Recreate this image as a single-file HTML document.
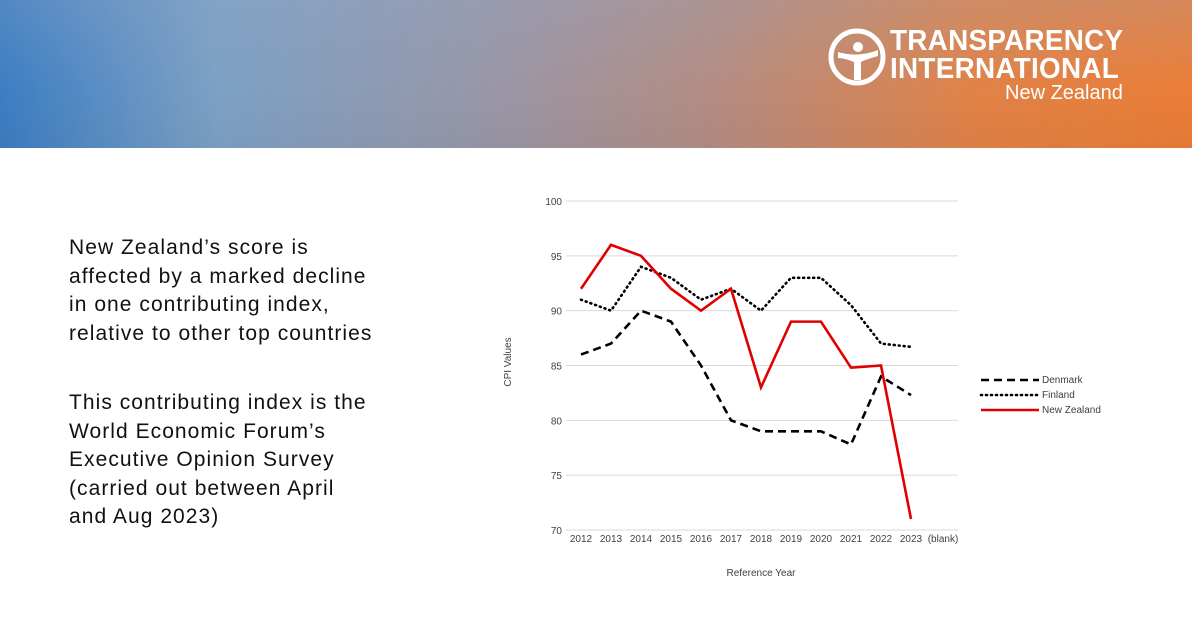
<!DOCTYPE html>
<html><head><meta charset="utf-8">
<style>
body{margin:0;width:1192px;height:627px;background:#fff;overflow:hidden;font-family:"Liberation Sans",sans-serif;position:relative}
#banner{position:absolute;left:0;top:0;width:1192px;height:148px;
background:linear-gradient(90deg,rgba(60,125,195,1) 0%,rgba(110,150,190,0.9) 18%,rgba(140,140,160,0.9) 40%,rgba(180,140,130,1) 60%,rgba(225,130,70,1) 82%,rgba(235,125,55,1) 100%)}
#banner:after{content:"";position:absolute;inset:0;background:linear-gradient(180deg,rgba(150,170,200,0.25),rgba(255,255,255,0) 60%,rgba(0,0,0,0.03))}
.txt{position:absolute;left:69px;font-size:21px;line-height:28.5px;color:#111;letter-spacing:1.05px;white-space:nowrap}
</style></head><body>
<div id="banner"></div>
<div style="position:absolute;left:828px;top:28px;width:300px;height:80px;z-index:2">
<svg width="60" height="60" style="position:absolute;left:0;top:0">
<circle cx="29" cy="29" r="26" fill="none" stroke="#fff" stroke-width="5"/>
<circle cx="30" cy="19" r="5" fill="#fff"/>
<path d="M10 24 Q30 30 50 22 L50 28 Q36 32 33 34 L33 52 L26 52 L26 34 Q16 30 10 30Z" fill="#fff"/>
</svg>
<div style="position:absolute;left:62px;top:-1px;color:#fff;font-size:29px;font-weight:bold;letter-spacing:0.3px;line-height:28px;transform:scaleX(0.96);transform-origin:left">TRANSPARENCY<br>INTERNATIONAL</div>
<div style="position:absolute;left:177px;top:54px;color:#fff;font-size:20px">New Zealand</div>
</div>
<div class="txt" style="top:234px">New Zealand’s score is<br>affected by a marked decline<br>in one contributing index,<br>relative to other top countries</div>
<div class="txt" style="top:389px">This contributing index is the<br>World Economic Forum’s<br>Executive Opinion Survey<br>(carried out between April<br>and Aug 2023)</div>
<svg id="chart" width="1192" height="627" style="position:absolute;left:0;top:0"></svg>
<script>
const years=["2012","2013","2014","2015","2016","2017","2018","2019","2020","2021","2022","2023","(blank)"];
const denmark=[86,87,90,89,85,80,79,79,79,77.8,84,82.3];
const finland=[91,90,94,93,91,92,90,93,93,90.5,87,86.7];
const newZealand=[92,96,95,92,90,92,83,89,89,84.8,85,71];
const yTicks=[70,75,80,85,90,95,100];
const svg=document.getElementById('chart');
const NS='http://www.w3.org/2000/svg';
function X(i){return 581+i*30;}
function Y(v){return 530-(v-70)*(329/30);}
function mk(t,a){const e=document.createElementNS(NS,t);for(const k in a)e.setAttribute(k,a[k]);svg.appendChild(e);return e;}
yTicks.forEach(v=>{
 const l=mk('line',{x1:566,x2:958,y1:Y(v),y2:Y(v),stroke:'#d9d9d9','stroke-width':1});
 
 
 const t=mk('text',{x:562,y:Y(v)+4,'text-anchor':'end','font-size':10,fill:'#404040','font-family':'Liberation Sans'});
 t.textContent=v;
 
 
});
years.forEach((y,i)=>{
 const t=mk('text',{x:X(i)+(i==12?2:0),y:542,'text-anchor':'middle','font-size':10,fill:'#404040','font-family':'Liberation Sans'});
 t.textContent=y;
 
 
});
function series(d,name,st,dash,w){
 const p=mk('polyline',{points:d.map((v,i)=>X(i)+','+Y(v)).join(' '),fill:'none',stroke:st,'stroke-width':w,'stroke-dasharray':dash,'stroke-linecap':dash=='1 4'?'round':'butt'});
 
 
}
series(finland,'finland','#000','1 4',2.6);
series(denmark,'denmark','#000','8 5',2.6);
series(newZealand,'new-zealand','#e00000','',2.6);
const yt=mk('text',{x:511,y:362,'text-anchor':'middle','font-size':10,fill:'#404040',transform:'rotate(-90 511 362)','font-family':'Liberation Sans'});
yt.textContent='CPI Values';


const xt=mk('text',{x:761,y:576,'text-anchor':'middle','font-size':10,fill:'#404040','font-family':'Liberation Sans'});
xt.textContent='Reference Year';


const leg=[['Denmark','#000','8 5'],['Finland','#000','1 4'],['New Zealand','#e00000','']];
leg.forEach((l,i)=>{
 const yy=380+i*15;
 const ln=mk('line',{x1:981,x2:1039,y1:yy,y2:yy,stroke:l[1],'stroke-width':2.6,'stroke-dasharray':l[2],'stroke-linecap':l[2]=='1 4'?'round':'butt'});
 
 
 const t=mk('text',{x:1042,y:yy+3,'font-size':10,fill:'#404040','font-family':'Liberation Sans'});
 t.textContent=l[0];
 
 
});
</script>
</body></html>
